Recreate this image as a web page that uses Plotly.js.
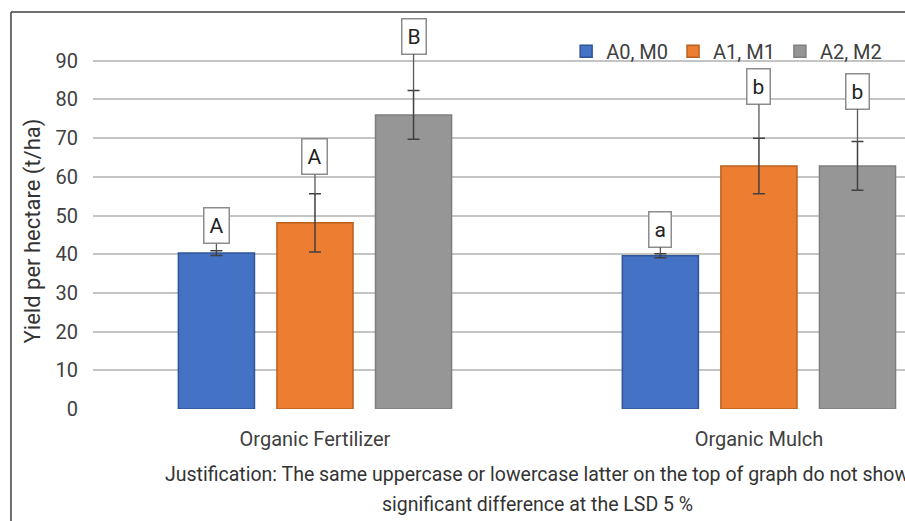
<!DOCTYPE html>
<html>
<head>
<meta charset="utf-8">
<script src="https://cdn.plot.ly/plotly-3.0.1.min.js"></script>
<style>html,body{margin:0;padding:0;background:#fff;}#chart{width:905px;height:521px;}</style>
</head>
<body>
<div id="chart"></div>
<script>
// ---- data ----
const categories = ["Organic Fertilizer", "Organic Mulch"];
const seriesNames = ["A0, M0", "A1, M1", "A2, M2"];
const a0Values = [40.3, 39.6];
const a1Values = [48.1, 62.8];
const a2Values = [76.0, 62.8];
const a0Errors = [0.6, 0.5];
const a1Errors = [7.5, 7.2];
const a2Errors = [6.3, 6.3];
const a0Letters = ["A", "a"];
const a1Letters = ["A", "b"];
const a2Letters = ["B", "b"];
const a0LabelY = [47.3, 46.4];
const a1LabelY = [65.2, 83.3];
const a2LabelY = [96.3, 82.1];
const yTickVals = [0, 10, 20, 30, 40, 50, 60, 70, 80, 90];
const yTitle = "Yield per hectare (t/ha)";
const noteLines = ["Justification: The same uppercase or lowercase latter on the top of graph do not show",
                   "significant difference at the LSD 5 %"];

// ---- styles ----
const FONT = "Roboto, 'Noto Sans', sans-serif";
const fills = ["#4472C4", "#ED7D31", "#969696"];
const borders = ["#2F5597", "#B8611F", "#7F7F7F"];
const values = [a0Values, a1Values, a2Values];
const errors = [a0Errors, a1Errors, a2Errors];
const letters = [a0Letters, a1Letters, a2Letters];
const labelY = [a0LabelY, a1LabelY, a2LabelY];
const BARGAP = 0.334, GROUPGAP = 0.228;

const traces = seriesNames.map((name, i) => ({
  type: "bar",
  name: name,
  x: categories,
  y: values[i],
  marker: {color: fills[i], line: {color: borders[i], width: 1.5}},
  error_y: {type: "data", array: errors[i], visible: true, color: "#404040", thickness: 1.5, width: 6},
  hoverinfo: "skip"
}));

const slot = (1 - BARGAP) / seriesNames.length;
const annotations = [];
seriesNames.forEach((name, i) => {
  categories.forEach((cat, j) => {
    const xpos = j + (i - (seriesNames.length - 1) / 2) * slot;
    annotations.push({
      xref: "x", yref: "y", axref: "x", ayref: "y",
      x: xpos, y: values[i][j] + errors[i][j],
      ax: xpos, ay: labelY[i][j],
      text: letters[i][j],
      showarrow: true, arrowhead: 0, arrowwidth: 1.3, arrowcolor: "#595959",
      font: {family: FONT, size: 21, color: "#222"},
      bgcolor: "#ffffff", bordercolor: "#8c8c8c", borderwidth: 1.5, borderpad: 5
    });
  });
});
const noteY = [-0.1826, -0.267];
noteLines.forEach((line, k) => {
  annotations.push({
    xref: "paper", yref: "paper", x: 0.547, y: noteY[k], xanchor: "center", yanchor: "middle",
    text: line, showarrow: false, align: "center",
    font: {family: FONT, size: 19.5, color: "#333333"}
  });
});

const layout = {
  width: 905, height: 521,
  margin: {l: 93, r: 0, t: 53, b: 112},
  paper_bgcolor: "#ffffff", plot_bgcolor: "#ffffff",
  font: {family: FONT, size: 18, color: "#404040"},
  barmode: "group", bargap: BARGAP, bargroupgap: GROUPGAP,
  showlegend: true,
  legend: {orientation: "h", x: 0.978, xanchor: "right", y: 1.06, yanchor: "top",
           font: {family: FONT, size: 20, color: "#404040"}, itemwidth: 30, bgcolor: "rgba(0,0,0,0)"},
  xaxis: {type: "category", range: [-0.5, 1.329], showgrid: false, zeroline: false, showline: false,
          ticks: "", ticklabelstandoff: 16, tickfont: {family: FONT, size: 20, color: "#404040"}},
  yaxis: {range: [0, 92], tickvals: yTickVals, showgrid: true, gridcolor: "#C4C4C4", gridwidth: 2,
          zeroline: false, showline: false, ticks: "", ticklabelstandoff: 14,
          tickfont: {family: FONT, size: 20, color: "#404040"},
          title: {text: yTitle, standoff: 8, font: {family: FONT, size: 22, color: "#333333"}}},
  annotations: annotations,
  shapes: [
    {type: "line", xref: "paper", yref: "paper", x0: -0.101, x1: -0.101, y0: 1.115, y1: -0.35,
     line: {color: "#404040", width: 1.5}},
    {type: "line", xref: "paper", yref: "paper", x0: -0.101, x1: 1.02, y0: 1.115, y1: 1.115,
     line: {color: "#404040", width: 1.5}}
  ]
};

Plotly.newPlot("chart", traces, layout, {displayModeBar: false, staticPlot: true});
</script>
</body>
</html>
